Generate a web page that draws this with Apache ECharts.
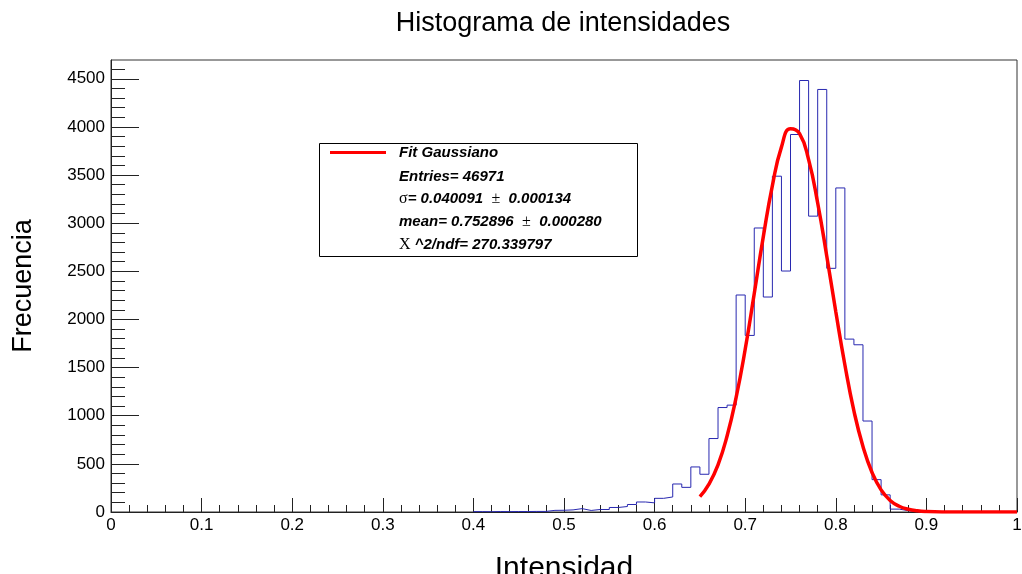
<!DOCTYPE html>
<html><head><meta charset="utf-8">
<script src="https://cdn.jsdelivr.net/npm/echarts@6/dist/echarts.min.js"></script>
<style>html,body{margin:0;padding:0;background:#fff}#c{width:1022px;height:574px}</style>
</head><body><div id="c"></div>
<script>
// ---- data ----
const TITLE = 'Histograma de intensidades';
const X_NAME = 'Intensidad';
const Y_NAME = 'Frecuencia';
const FIT_NAME = 'Fit Gaussiano';

// histogram: bins of width 0.01 starting at 0.40
const binLow = [0.40,0.41,0.42,0.43,0.44,0.45,0.46,0.47,0.48,0.49,
                0.50,0.51,0.52,0.53,0.54,0.55,0.56,0.57,0.58,0.59,
                0.60,0.61,0.62,0.63,0.64,0.65,0.66,0.67,0.68,0.69,
                0.70,0.71,0.72,0.73,0.74,0.75,0.76,0.77,0.78,0.79,
                0.80,0.81,0.82,0.83,0.84,0.85,0.86,0.87,0.88,0.89,
                0.90,0.91,0.92,0.93,0.94,0.95,0.96,0.97,0.98,0.99];
const binCounts = [4,3,5,4,5,5,6,6,17,18,
                   22,35,16,26,26,47,57,78,104,95,
                   142,156,291,256,468,392,763,1085,1110,2254,
                   1834,2950,2233,3488,2503,3921,4482,3073,4389,2531,
                   3366,1796,1737,945,336,178,30,14,3,2,
                   1,0,1,0,0,0,0,0,0,0];
const histEnd = 1.0;

// fitted curve, points
const fitX = [0.65,0.66,0.67,0.68,0.69,0.70,0.71,0.72,0.73,0.74,0.75,0.76,0.77,0.78,0.79,
              0.80,0.81,0.82,0.83,0.84,0.85,0.86,0.87,0.88,0.89,0.90,0.92,0.95,1.00];
const fitY = [160,290,490,790,1190,1690,2270,2860,3390,3790,3980,3930,3660,3210,2660,
              2080,1530,1050,680,410,230,120,60,28,12,5,1,0,0];

const xTicks = [0,0.1,0.2,0.3,0.4,0.5,0.6,0.7,0.8,0.9,1];
const yTicks = [0,500,1000,1500,2000,2500,3000,3500,4000,4500];
const yMinorTicks = [100,200,300,400,600,700,800,900,1100,1200,1300,1400,1600,1700,1800,1900,
                     2100,2200,2300,2400,2600,2700,2800,2900,3100,3200,3300,3400,3600,3700,3800,3900,
                     4100,4200,4300,4400,4600];
const Y_MAX = 4695;

const statEntries = '46971';
const statSigma = ['0.040091', '0.000134'];
const statMean = ['0.752896', '0.000280'];
const statChi2 = '270.339797';

// ---- chart ----
const histData = binLow.map((x, i) => [x, binCounts[i]]);
histData.push([histEnd, 0]);
const fitData = fitX.map((x, i) => [x, fitY[i]]);

const SANS = '"Liberation Sans", Arial, Helvetica, sans-serif';
const SERIF = '"Liberation Serif", "DejaVu Serif", serif';
const bStyle = {fontFamily: SANS, fontSize: 15, fontWeight: 'bold', fontStyle: 'italic', fill: '#000', color: '#000'};
const sStyle = {fontFamily: SERIF, fontSize: 16, fill: '#000', color: '#000'};
const rich = {b: bStyle, s: sStyle};

function statText(text, y) {
  return {
    type: 'text', x: 399, y: y, z: 100,
    style: {text: text, rich: rich, verticalAlign: 'middle', align: 'left',
            font: 'italic bold 15px ' + SANS, fill: '#000'}
  };
}

const chart = echarts.init(document.getElementById('c'), null, {renderer: 'canvas'});
chart.setOption({
  backgroundColor: '#fff',
  animation: false,
  title: {
    text: TITLE, left: 563, top: 10, textAlign: 'center', padding: 0,
    textStyle: {fontFamily: SANS, fontSize: 27, fontWeight: 'normal', color: '#000'}
  },
  grid: {left: 111, right: 5, top: 60, bottom: 62, show: true, borderColor: '#333', borderWidth: 1,
         backgroundColor: 'transparent', containLabel: false, outerBoundsMode: 'none'},
  legend: {
    data: [FIT_NAME], left: 330, top: 145, padding: 0, icon: 'rect',
    itemWidth: 56, itemHeight: 3,
    textStyle: {fontFamily: SANS, fontSize: 15, fontWeight: 'bold', fontStyle: 'italic', color: '#000', padding: [0, 0, 0, 8]}
  },
  xAxis: {
    type: 'value', min: 0, max: 1, interval: 0.1,
    name: X_NAME, nameLocation: 'middle', nameGap: 42,
    nameTextStyle: {fontFamily: SANS, fontSize: 30, color: '#000'},
    axisLine: {show: true, lineStyle: {color: '#222', width: 1}},
    axisTick: {show: true, inside: true, length: 14, lineStyle: {color: '#222'}},
    minorTick: {show: true, splitNumber: 5, length: 7, lineStyle: {color: '#222'}},
    axisLabel: {fontFamily: SANS, fontSize: 17, color: '#000', margin: 5,
                customValues: xTicks, formatter: v => String(+v.toFixed(1))},
    splitLine: {show: false}
  },
  yAxis: [{
    type: 'value', min: 0, max: Y_MAX, position: 'left',
    name: Y_NAME, nameLocation: 'middle', nameGap: 74,
    nameTextStyle: {fontFamily: SANS, fontSize: 27, color: '#000'},
    axisLine: {show: true, lineStyle: {color: '#222', width: 1}},
    axisTick: {show: true, inside: true, length: 28, customValues: yTicks, lineStyle: {color: '#222'}},
    axisLabel: {fontFamily: SANS, fontSize: 17, color: '#000', margin: 6, customValues: yTicks,
                formatter: v => String(Math.round(v))},
    splitLine: {show: false}
  }, {
    type: 'value', min: 0, max: Y_MAX, position: 'left', offset: 0,
    axisLine: {show: false},
    axisTick: {show: true, inside: true, length: 14, customValues: yMinorTicks, lineStyle: {color: '#222'}},
    axisLabel: {show: false},
    splitLine: {show: false}
  }],
  series: [{
    name: 'Histograma', type: 'line', step: 'end', data: histData,
    showSymbol: false, symbol: 'none', yAxisIndex: 0, z: 2,
    lineStyle: {color: '#2828b0', width: 1}, itemStyle: {color: '#2828b0'}
  }, {
    name: FIT_NAME, type: 'line', data: fitData, smooth: true,
    showSymbol: false, symbol: 'none', yAxisIndex: 0, z: 3,
    color: '#ff0000',
    lineStyle: {color: '#ff0000', width: 3.5}, itemStyle: {color: '#ff0000'}
  }],
  graphic: [
    {type: 'rect', z: 90, shape: {x: 319.5, y: 143.5, width: 318, height: 113},
     style: {fill: 'rgba(255,255,255,0)', stroke: '#000', lineWidth: 1}},
    statText('{b|Entries= ' + statEntries + '}', 176.5),
    statText('{s|σ}{b|= ' + statSigma[0] + '  }{s|±}{b|  ' + statSigma[1] + '}', 199),
    statText('{b|mean= ' + statMean[0] + '  }{s|±}{b|  ' + statMean[1] + '}', 221.5),
    statText('{s|Χ}{b| ^2/ndf= ' + statChi2 + '}', 244.5)
  ]
});
</script>
</body></html>
